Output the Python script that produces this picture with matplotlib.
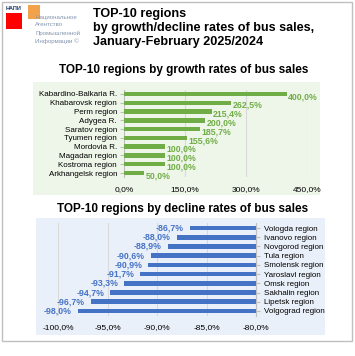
import matplotlib
matplotlib.use("Agg")
import matplotlib.pyplot as plt
from matplotlib.patches import Rectangle

# growth chart data (top to bottom)
growth_regions = ["Kabardino-Balkaria R.", "Khabarovsk region", "Perm region", "Adygea R.",
                  "Saratov region", "Tyumen region", "Mordovia R.", "Magadan region",
                  "Kostroma region", "Arkhangelsk region"]
growth_values = [400.0, 262.5, 215.4, 200.0, 185.7, 155.6, 100.0, 100.0, 100.0, 50.0]
growth_ticks = [0, 150, 300, 450]

# decline chart data (top to bottom)
decline_regions = ["Vologda region", "Ivanovo region", "Novgorod region", "Tula region",
                   "Smolensk region", "Yaroslavl region", "Omsk region", "Sakhalin region",
                   "Lipetsk region", "Volgograd region"]
decline_values = [-86.7, -88.0, -88.9, -90.6, -90.9, -91.7, -93.3, -94.7, -96.7, -98.0]
decline_ticks = [-100, -95, -90, -85, -80]

GREEN = "#70AD47"
BLUE = "#4472C4"
W, H = 355, 356

plt.rcParams['font.family'] = ['Liberation Sans', 'DejaVu Sans']
SMALL = ['Liberation Sans Narrow', 'Liberation Sans', 'DejaVu Sans']


def pct(v):
    return f"{v:.1f}%".replace(".", ",")


def fx(px):
    return px / W


def fy(py):
    return 1 - py / H


fig = plt.figure(figsize=(3.55, 3.56), dpi=100)

# outer frame
fig.patches.append(Rectangle((fx(2), fy(341)), fx(350), 339 / H, transform=fig.transFigure,
                             fill=False, edgecolor="#BFBFBF", lw=1, zorder=0))

# logo
fig.text(fx(6), fy(8), "НАПИ", fontsize=4, color="#1F3864", fontweight="bold", va="center")
fig.patches.append(Rectangle((fx(6), fy(29)), fx(16), 16 / H, transform=fig.transFigure,
                             facecolor="#FF0000", lw=0))
fig.patches.append(Rectangle((fx(28), fy(19)), fx(12), 14 / H, transform=fig.transFigure,
                             facecolor="#F0922B", alpha=0.85, lw=0))
for i, line in enumerate(["Национальное", "Агентство", "Промышленной", "Информации ©"]):
    fig.text(fx(35), fy(17 + i * 8), line, fontsize=4.4, color="#8496B0", va="center",
             family=SMALL)

# header title
fig.text(fx(93), fy(28), "TOP-10 regions\nby growth/decline rates of bus sales,\nJanuary-February 2025/2024",
         fontsize=9.1, fontweight="bold", va="center", ha="left", linespacing=1.2)

# panel backgrounds
fig.patches.append(Rectangle((fx(33), fy(195)), fx(287), 113 / H, transform=fig.transFigure,
                             facecolor="#EEF6E9", lw=0, zorder=0))
fig.patches.append(Rectangle((fx(36), fy(335)), fx(289), 117 / H, transform=fig.transFigure,
                             facecolor="#EAF0F9", lw=0, zorder=0))

# growth chart
fig.text(fx(184), fy(70), "TOP-10 regions by growth rates of bus sales", ha="center", va="center",
         fontsize=8.5, fontweight="bold")
ax1 = fig.add_axes([fx(124), fy(177.4), fx(183), 87.8 / H], zorder=2)
ax1.patch.set_visible(False)
pos1 = list(range(len(growth_values)))
ax1.barh(pos1, growth_values, height=0.5, color=GREEN, zorder=3)
ax1.set_ylim(len(pos1) - 0.5, -0.5)
ax1.set_xlim(0, 450)
ax1.set_xticks(growth_ticks)
ax1.set_xticklabels([pct(t) for t in growth_ticks], family=SMALL, fontsize=6)
ax1.set_yticks(pos1)
ax1.set_yticklabels(growth_regions, family=SMALL, fontsize=5.8)
ax1.grid(axis="x", color="#D9D9D9", lw=0.8, zorder=0)
for s in ["top", "right", "bottom"]:
    ax1.spines[s].set_visible(False)
ax1.spines["left"].set_color("#BFBFBF")
ax1.tick_params(axis="x", length=0, pad=6)
ax1.tick_params(axis="y", length=3, color="#BFBFBF", pad=2)
for p, v in zip(pos1, growth_values):
    ax1.text(v + 4, p + 0.3, pct(v), color=GREEN, fontsize=6.3, fontweight="bold",
             va="center", ha="left")

# decline chart
fig.text(fx(183), fy(209), "TOP-10 regions by decline rates of bus sales", ha="center", va="center",
         fontsize=8.5, fontweight="bold")
ax2 = fig.add_axes([fx(58), fy(315.6), fx(198), 92.2 / H], zorder=2)
ax2.patch.set_visible(False)
pos2 = list(range(len(decline_values)))
ax2.barh(pos2, [v + 80 for v in decline_values], left=-80, height=0.5, color=BLUE, zorder=3)
ax2.set_ylim(len(pos2) - 0.5, -0.5)
ax2.set_xlim(-100, -80)
ax2.set_xticks(decline_ticks)
ax2.set_xticklabels([pct(t) for t in decline_ticks], family=SMALL, fontsize=6)
ax2.yaxis.tick_right()
ax2.set_yticks(pos2)
ax2.set_yticklabels(decline_regions, family=SMALL, fontsize=5.8)
ax2.grid(axis="x", color="#D9D9D9", lw=0.8, zorder=0)
for s in ["top", "left", "bottom"]:
    ax2.spines[s].set_visible(False)
ax2.spines["right"].set_color("#BFBFBF")
ax2.tick_params(axis="x", length=0, pad=6)
ax2.tick_params(axis="y", length=3, color="#BFBFBF", pad=3)
for p, v in zip(pos2, decline_values):
    ax2.text(v - 0.6, p, pct(v), color=BLUE, fontsize=6.3, fontweight="bold",
             va="center", ha="right")

fig.savefig("out.png", dpi=100)
